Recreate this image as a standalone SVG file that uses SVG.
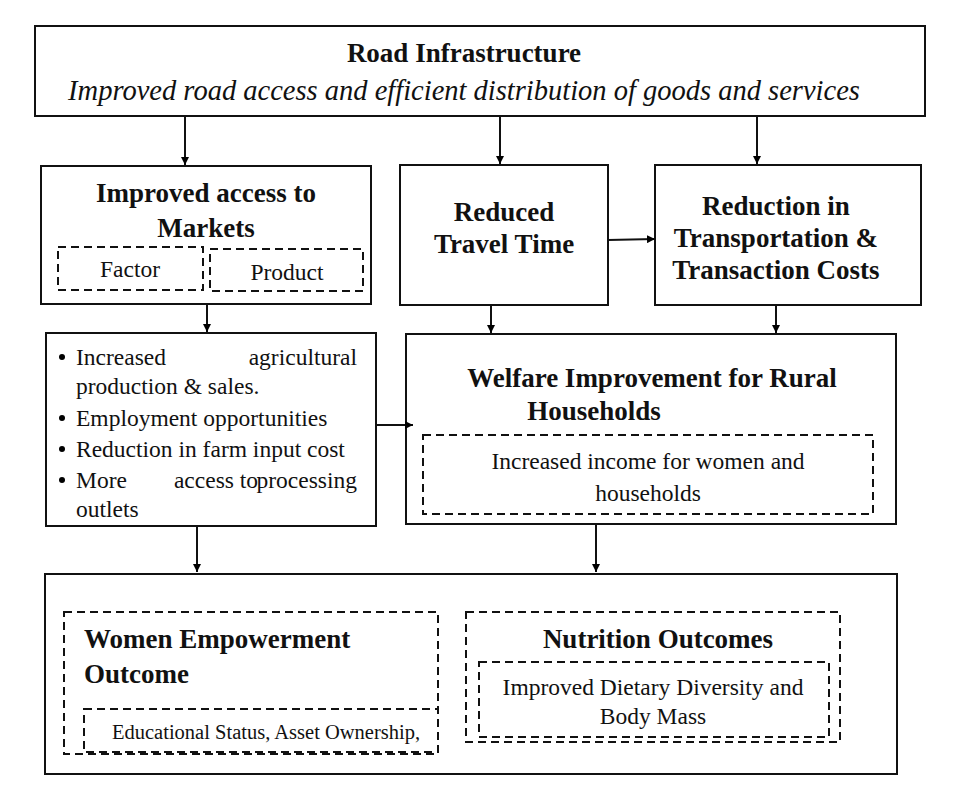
<svg xmlns="http://www.w3.org/2000/svg" width="960" height="787" viewBox="0 0 960 787">
<defs><marker id="a" viewBox="0 0 10 10" refX="10" refY="5" markerWidth="8" markerHeight="8" orient="auto" markerUnits="userSpaceOnUse"><path d="M0,0L10,5L0,10z" fill="#000"/></marker></defs>
<style>
.b{fill:#fff;stroke:#111;stroke-width:2}
.d{fill:none;stroke:#111;stroke-width:2;stroke-dasharray:8,5}
text{font-family:"Liberation Serif",serif;fill:#111}
.h{font-weight:bold;font-size:27px}
.t{font-size:23.5px}
.c line{stroke:#111;stroke-width:2;marker-end:url(#a)}
</style>
<rect width="960" height="787" fill="#fff"/>
<g id="road"><rect class="b" x="35" y="26" width="890" height="90"/>
<text class="h" x="464" y="62" text-anchor="middle">Road Infrastructure</text>
<text x="464" y="100" text-anchor="middle" font-size="28.5" font-style="italic">Improved road access and efficient distribution of goods and services</text></g>
<g id="markets"><rect class="b" x="41" y="166" width="330" height="138"/>
<text class="h" x="206" y="202" text-anchor="middle">Improved access to</text>
<text class="h" x="206" y="237" text-anchor="middle">Markets</text>
<rect class="d" x="58" y="247" width="145" height="43"/><rect class="d" x="210" y="249" width="153" height="42"/>
<text class="t" x="130" y="277" text-anchor="middle">Factor</text><text class="t" x="287" y="280" text-anchor="middle">Product</text></g>
<g id="travel"><rect class="b" x="400" y="165" width="208" height="140"/>
<text class="h" x="504" y="221" text-anchor="middle">Reduced</text><text class="h" x="504" y="253" text-anchor="middle">Travel Time</text></g>
<g id="costs"><rect class="b" x="655" y="165" width="266" height="140"/>
<text class="h" x="776" y="215" text-anchor="middle">Reduction in</text><text class="h" x="776" y="247" text-anchor="middle">Transportation &amp;</text><text class="h" x="776" y="279" text-anchor="middle">Transaction Costs</text></g>
<g id="list"><rect class="b" x="46" y="333" width="330" height="193"/>
<g><circle cx="62" cy="357" r="3"/><circle cx="62" cy="418" r="3"/><circle cx="62" cy="449" r="3"/><circle cx="62" cy="480" r="3"/></g>
<text class="t" x="76" y="365">Increased</text><text class="t" x="357" y="365" text-anchor="end">agricultural</text>
<text class="t" x="76" y="394">production &amp; sales.</text>
<text class="t" x="76" y="426">Employment opportunities</text>
<text class="t" x="76" y="457">Reduction in farm input cost</text>
<text class="t" x="76" y="488">More</text><text class="t" x="216" y="488" text-anchor="middle">access to</text><text class="t" x="357" y="488" text-anchor="end">processing</text>
<text class="t" x="76" y="517">outlets</text></g>
<g id="welfare"><rect class="b" x="406" y="334" width="490" height="190"/>
<text class="h" x="652" y="387" text-anchor="middle">Welfare Improvement for Rural</text>
<text class="h" x="594" y="420" text-anchor="middle">Households</text>
<rect class="d" x="423" y="435" width="450" height="79"/>
<text class="t" x="648" y="469" text-anchor="middle">Increased income for women and</text>
<text class="t" x="648" y="501" text-anchor="middle">households</text></g>
<g id="outcomes"><rect class="b" x="45" y="574" width="852" height="200"/>
<g id="women"><rect class="d" x="64" y="612" width="374" height="142"/>
<rect class="d" x="84" y="709" width="354" height="43"/>
<text class="h" x="84" y="648">Women Empowerment</text><text class="h" x="84" y="683">Outcome</text>
<text x="112" y="739" font-size="20.5">Educational Status, Asset Ownership,</text></g>
<g id="nutrition"><rect class="d" x="466" y="612" width="374" height="130"/>
<rect class="d" x="479" y="662" width="350" height="75"/>
<text class="h" x="658" y="648" text-anchor="middle">Nutrition Outcomes</text>
<text class="t" x="653" y="695" text-anchor="middle">Improved Dietary Diversity and</text>
<text class="t" x="653" y="724" text-anchor="middle">Body Mass</text></g></g>
<g class="c">
<line x1="185" y1="116" x2="185" y2="165"/><line x1="500" y1="116" x2="500" y2="164"/><line x1="757" y1="116" x2="757" y2="164"/>
<line x1="608" y1="240" x2="655" y2="239"/>
<line x1="207" y1="304" x2="207" y2="332"/><line x1="491" y1="305" x2="491" y2="333"/><line x1="776" y1="305" x2="776" y2="333"/>
<line x1="376" y1="425" x2="413" y2="425"/>
<line x1="197" y1="526" x2="197" y2="572"/><line x1="596" y1="524" x2="596" y2="572"/>
</g>
</svg>
